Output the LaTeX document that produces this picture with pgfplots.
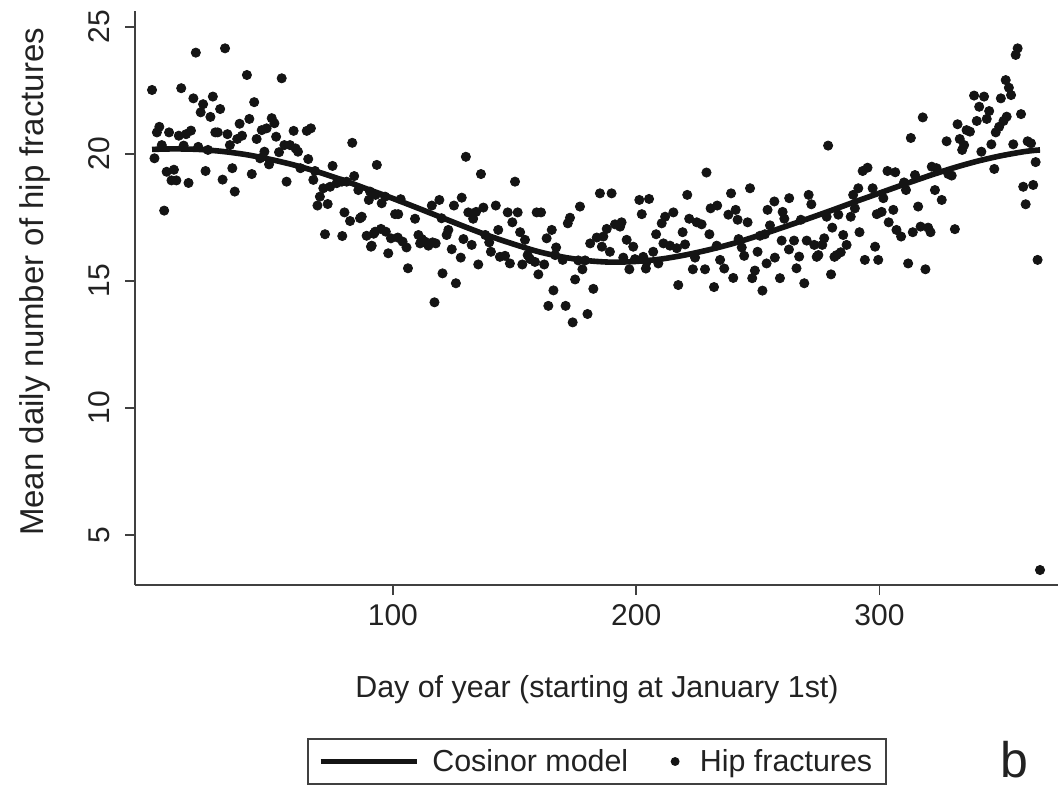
\documentclass[border=0pt]{standalone}
\usepackage{pgfplots}
\pgfplotsset{compat=1.18}
\usepackage{fontspec}
\setmainfont{Liberation Sans}

% day of year, mean daily number of hip fractures
\pgfplotstableread{
day y
1 22.52
2 19.83
3 20.85
4 21.07
5 20.35
6 17.77
7 19.30
8 20.85
9 18.96
10 19.38
11 18.96
12 20.72
13 22.59
14 20.33
15 20.78
16 18.86
17 20.92
18 22.19
19 23.99
20 20.28
21 21.64
22 21.96
23 19.33
24 20.16
25 21.46
26 22.26
27 20.85
28 20.85
29 21.77
30 18.99
31 24.16
32 20.78
33 20.35
34 19.44
35 18.52
36 20.59
37 21.19
38 20.72
40 23.11
41 21.38
42 19.21
43 22.04
44 20.59
45.4 19.83
46.1 20.94
47.2 20.09
48.1 21.01
49.1 19.59
50.2 21.41
51.3 21.21
52.0 20.68
53.2 20.07
54.3 22.98
55.4 20.35
56.3 18.91
57.7 20.35
59.2 20.91
60.0 20.22
61.0 20.09
62.0 19.44
64.6 20.91
65.2 19.80
66.3 21.01
67.3 18.98
68.0 19.33
69.0 17.97
70.0 18.32
71.4 18.65
72.1 16.84
73.2 18.03
74.2 18.71
75.2 19.53
76.9 18.85
79.0 18.91
79.2 16.77
80.1 17.70
81.0 18.91
82.4 17.36
83.3 20.44
84.1 19.13
85.8 18.58
86.5 17.47
87.2 17.53
89.2 16.78
90.1 18.19
90.6 18.52
91.0 16.35
91.3 16.39
92.1 16.86
92.7 16.94
92.9 18.39
93.4 19.57
95.1 17.05
95.4 18.06
96.8 18.32
97.1 16.94
98.1 16.09
99.2 16.68
100.9 17.63
102.0 16.71
102.2 17.63
103.2 18.22
104.0 16.55
105.6 16.32
106.2 15.50
109.1 17.45
110.5 16.81
111.2 16.48
111.9 16.65
113.2 16.55
114.6 16.39
116.0 17.97
116.3 16.52
117.1 14.16
117.6 16.48
119.1 18.19
120.0 17.47
120.4 15.30
122.1 16.81
122.8 17.01
124.2 16.25
125.1 17.97
125.9 14.91
127.9 15.92
128.3 18.28
129.0 16.65
130.0 19.89
131.0 17.70
132.4 16.42
133.0 17.45
134.2 17.72
135.1 15.65
136.2 19.21
137.2 17.89
138.0 16.81
139.6 16.52
140.3 16.15
142.3 17.97
143.3 17.01
144.0 15.95
146.1 15.99
147.2 17.70
148.1 15.69
149.1 17.31
150.2 18.91
151.3 17.70
152.3 16.92
153.2 15.65
154.3 16.62
155.4 16.02
156.4 15.86
158.4 15.75
159.1 17.70
159.8 15.26
160.9 17.70
162.2 15.65
163.2 16.68
163.9 14.02
165.3 17.01
166.0 14.63
166.7 16.02
167.1 16.32
169.8 15.83
171.0 14.02
171.9 17.27
172.8 17.49
173.9 13.37
174.9 15.06
176.2 15.81
176.9 17.93
177.9 15.46
179.0 15.81
180.0 13.70
181.1 16.48
182.4 14.69
183.8 16.71
185.1 18.45
185.9 16.35
186.5 16.75
187.9 17.05
189.2 16.15
189.9 18.45
191.3 17.23
193.4 17.14
194.0 17.31
194.7 15.92
196.1 16.62
197.2 15.46
198.8 16.35
199.5 15.86
201.3 18.19
202.3 17.63
202.9 15.95
204.0 15.49
204.3 15.75
205.3 18.23
207.0 16.15
208.2 16.84
209.1 15.69
210.5 17.27
211.2 16.48
211.9 17.53
213.9 16.39
215.3 17.70
216.7 16.29
217.3 14.84
219.1 16.92
220.1 16.44
221.0 18.39
221.8 17.45
223.3 15.46
224.2 15.92
224.9 17.31
226.9 17.23
228.3 15.46
228.9 19.27
230.1 16.84
230.6 17.86
232.0 14.76
233.1 16.39
233.3 17.97
234.5 15.83
236.2 15.49
237.9 17.61
239.0 18.45
239.9 15.12
240.9 17.80
241.7 17.41
242.1 16.65
243.4 16.32
244.4 15.99
245.8 17.31
246.8 18.65
247.7 15.11
248.8 15.41
249.9 16.15
250.9 16.78
251.9 14.62
252.9 16.84
253.6 15.69
254.0 17.80
255.0 17.19
256.8 18.13
257.0 15.92
259.1 15.11
259.8 16.59
260.2 17.72
260.9 17.45
262.8 16.24
262.9 18.26
264.9 16.59
265.9 15.50
267.0 15.96
267.7 17.41
269.1 14.91
270.1 16.59
270.9 18.39
272.0 18.02
273.2 16.42
274.2 15.95
274.9 16.02
276.5 16.42
277.3 16.68
278.3 17.53
278.9 20.33
280.1 15.26
280.6 17.10
281.5 15.95
282.4 16.02
283.1 17.61
284.1 16.13
285.1 16.81
286.5 16.42
288.2 17.53
289.2 18.39
289.9 17.86
291.3 18.65
291.8 16.92
293.1 19.33
294.0 15.83
295.1 19.46
297.2 18.65
298.2 16.35
298.9 17.63
299.5 15.83
300.9 17.72
301.6 18.26
303.3 19.33
303.8 17.31
305.7 17.80
306.5 19.28
307.0 17.01
308.9 16.75
310.1 18.88
310.9 18.58
311.8 15.69
312.9 20.63
313.7 16.92
314.6 19.17
315.9 17.93
316.9 17.14
317.8 21.44
318.9 15.46
320.0 17.10
321.0 16.92
321.5 19.50
322.8 18.58
323.5 19.44
325.6 18.19
327.6 20.50
328.3 19.21
329.7 19.15
331.0 17.04
332.1 21.17
333.0 20.59
334.0 20.16
334.8 20.35
335.8 20.94
337.2 20.88
338.9 22.30
340.0 21.30
341.0 21.86
341.9 20.09
343.0 22.26
344.1 21.38
345.1 21.69
346.0 20.38
347.2 19.41
347.8 20.85
349.2 21.07
349.9 22.19
351.0 21.30
351.9 22.91
352.3 21.47
353.2 22.61
354.1 22.32
355.0 20.38
356.0 23.90
356.8 24.16
358.2 21.57
359.1 18.71
360.1 18.02
360.9 20.50
362.3 20.42
363.2 18.78
364.2 19.68
365.0 15.83
366.0 3.62
}\hipdata

% fitted cosinor curve
\pgfplotstableread{
day y
1 20.18
10 20.20
20 20.18
30 20.10
40 19.97
50 19.78
60 19.55
70 19.27
80 18.95
90 18.60
100 18.25
110 17.88
120 17.50
130 17.12
140 16.76
150 16.44
160 16.15
170 15.94
180 15.80
190 15.74
200 15.77
210 15.86
220 16.02
230 16.23
240 16.48
250 16.78
260 17.10
270 17.43
280 17.77
290 18.12
300 18.46
310 18.80
320 19.13
330 19.44
340 19.71
350 19.93
360 20.10
366 20.16
}\cosinor

\definecolor{axgray}{HTML}{404040}
\definecolor{txt}{HTML}{222222}

\begin{document}
\begin{tikzpicture}
\useasboundingbox (0,0) rectangle (529pt,393pt);
\begin{axis}[
  at={(67.5pt,100.5pt)}, anchor=south west,
  scale only axis, width=461.5pt, height=287pt,
  xmin=-6, xmax=373.4, ymin=3.03, ymax=25.63,
  axis lines*=left,
  axis line style={line width=0.8pt, axgray},
  xtick={100,200,300}, ytick={5,10,15,20,25},
  tick align=outside, major tick length=5pt,
  tick style={line width=0.8pt, axgray},
  /pgf/number format/assume math mode=true,
  tick label style={font=\fontsize{15}{18}\selectfont, text=txt},
  yticklabel style={rotate=90, anchor=south, yshift=4pt},
  xticklabel style={yshift=-1pt},
  xlabel={Day of year (starting at January 1st)},
  ylabel={Mean daily number of hip fractures},
  every axis x label/.style={at={(axis description cs:0.5005,-0.183)}, anchor=center, font=\fontsize{15.2}{18}\selectfont, text=txt},
  every axis y label/.style={at={(axis description cs:-0.1083,0.528)}, rotate=90, anchor=center, font=\fontsize{16.5}{20}\selectfont, text=txt},
  legend columns=2,
  legend style={at={(axis description cs:0.5005,-0.3075)}, anchor=center,
    draw=axgray, line width=0.8pt, font=\fontsize{15.2}{18}\selectfont, text=txt,
    inner xsep=5pt, inner ysep=3pt,
    /tikz/every odd column/.append style={column sep=4.5pt},
    /tikz/every even column/.append style={column sep=19.2pt}},
  clip=false,
]
\addplot[only marks, mark=*, mark size=2.3pt, color=black!92, forget plot] table[x=day, y=y] {\hipdata};
\addplot[line width=2.8pt, color=black!92, smooth,
  legend image code/.code={\draw[line width=2.8pt, black!92] (0pt,0pt) -- (48pt,0pt);}]
  table[x=day, y=y] {\cosinor};
\addlegendentry{Cosinor model}
\addlegendimage{only marks, mark=*, mark size=1.8pt, color=black!92,
  legend image code/.code={\fill[black!92] (0pt,0pt) circle (1.8pt); \path (5.5pt,0pt);}}
\addlegendentry{Hip fractures}
\node[font=\fontsize{25}{30}\selectfont, text=txt] at (axis description cs:0.953,-0.305) {b};
\end{axis}
\end{tikzpicture}
\end{document}
